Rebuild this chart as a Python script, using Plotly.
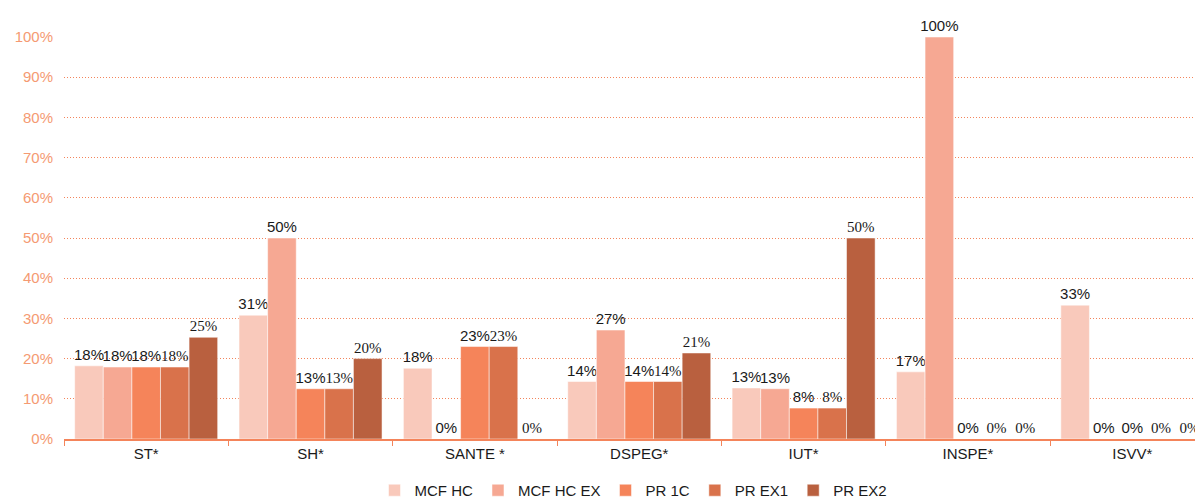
import plotly.graph_objects as go

categories = ["ST*", "SH*", "SANTE *", "DSPEG*", "IUT*", "INSPE*", "ISVV*"]
series_names = ["MCF HC", "MCF HC EX", "PR 1C", "PR EX1", "PR EX2"]
mcf_hc = [18.2, 30.8, 17.6, 14.3, 12.7, 16.7, 33.3]
mcf_hc_ex = [17.9, 50.0, 0.0, 27.1, 12.5, 100.0, 0.0]
pr_1c = [17.9, 12.5, 23.0, 14.3, 7.7, 0.0, 0.0]
pr_ex1 = [17.9, 12.5, 23.0, 14.3, 7.7, 0.0, 0.0]
pr_ex2 = [25.3, 20.0, 0.0, 21.4, 50.0, 0.0, 0.0]
y_ticks = [0, 10, 20, 30, 40, 50, 60, 70, 80, 90, 100]

series_values = [mcf_hc, mcf_hc_ex, pr_1c, pr_ex1, pr_ex2]
colors = ["#F9C9BB", "#F6A893", "#F5845A", "#D9724B", "#B9603F"]
label_fonts = ["Liberation Sans", "Liberation Sans", "Liberation Sans",
               "Liberation Serif", "Liberation Serif"]

fig = go.Figure()
for name, vals, col, fnt in zip(series_names, series_values, colors, label_fonts):
    fig.add_trace(go.Bar(
        name=name, x=categories, y=vals,
        marker=dict(color=col, line=dict(color="rgba(255,255,255,0.5)", width=1)),
        text=[f"{int(v + 0.5)}%" for v in vals],
        textposition="outside",
        constraintext="none",
        textfont=dict(family=fnt, size=15, color="#1a1a1a"),
        cliponaxis=False,
    ))

# the page body adds an 8px offset, so the figure is sized to fit the window
fig.update_layout(
    width=1195, height=492,
    margin=dict(l=56, r=0, t=29, b=61, autoexpand=False),
    paper_bgcolor="white", plot_bgcolor="white",
    barmode="group", bargap=0.13, bargroupgap=0,
    font=dict(family="Liberation Sans", size=15, color="#1a1a1a"),
    showlegend=True,
    legend=dict(orientation="h", x=0.5, xanchor="center", xref="paper",
                y=-0.128, yanchor="middle",
                font=dict(family="Liberation Sans", size=15, color="#1a1a1a"),
                itemwidth=30, tracegroupgap=0),
)
fig.update_xaxes(
    range=[-0.5, 6.43], showline=True, linecolor="#F4845A", linewidth=1.5,
    ticks="outside", tickson="boundaries", ticklen=5, tickcolor="#F4845A",
    tickfont=dict(family="Liberation Sans", size=15, color="#1a1a1a"),
    showgrid=False,
)
fig.update_yaxes(
    range=[0, 100], tickvals=y_ticks, ticktext=[f"{t}%" for t in y_ticks],
    tickfont=dict(family="Liberation Sans", size=15, color="#F59A72"),
    showgrid=True, gridcolor="#F4845A", gridwidth=1.2, griddash="1px,2px",
    zeroline=False, showline=False, ticks="", ticklabelstandoff=10,
)
fig.write_html("out.html")
